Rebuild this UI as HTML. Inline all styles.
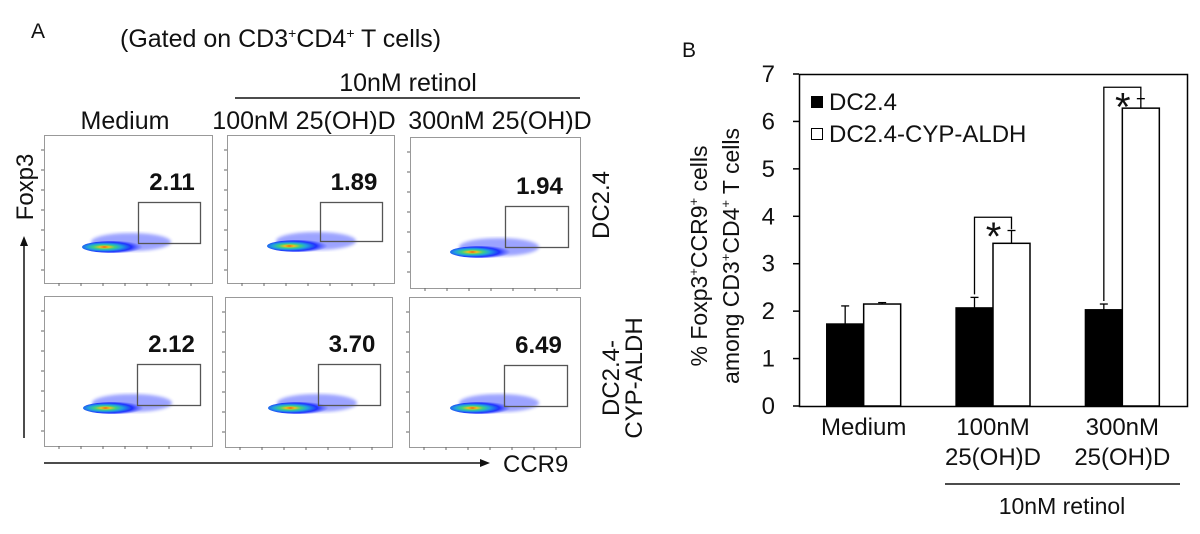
<!DOCTYPE html>
<html><head><meta charset="utf-8">
<style>
html,body{margin:0;padding:0;background:#fff;}
body{width:1200px;height:529px;overflow:hidden;font-family:"Liberation Sans",Arial,sans-serif;}
svg text{font-family:"Liberation Sans",Arial,sans-serif;fill:#111;}
</style></head>
<body>
<svg id="fig" width="1200" height="529" viewBox="0 0 1200 529" xmlns="http://www.w3.org/2000/svg">
<defs>
  <radialGradient id="blob" cx="0.35" cy="0.5" r="0.6">
    <stop offset="0" stop-color="#e03010"/>
    <stop offset="0.12" stop-color="#f0c020"/>
    <stop offset="0.28" stop-color="#40d080"/>
    <stop offset="0.45" stop-color="#20a0e0"/>
    <stop offset="0.7" stop-color="#2030ff"/>
    <stop offset="1" stop-color="#4050ff" stop-opacity="0"/>
  </radialGradient>
  <filter id="soft"><feGaussianBlur stdDeviation="1.5"/></filter>
</defs>

<text x="31" y="38" font-size="21">A</text>
<text x="120" y="47" font-size="25">(Gated on CD3<tspan font-size="14" dy="-9">+</tspan><tspan dy="9">CD4</tspan><tspan font-size="14" dy="-9">+</tspan><tspan dy="9"> T cells)</tspan></text>
<text x="408" y="91" font-size="25" text-anchor="middle">10nM retinol</text>
<line x1="235" y1="98" x2="580" y2="98" stroke="#111" stroke-width="1.5"/>
<text x="125" y="129" font-size="25" text-anchor="middle">Medium</text>
<text x="304" y="129" font-size="25" text-anchor="middle">100nM 25(OH)D</text>
<text x="500" y="129" font-size="25" text-anchor="middle">300nM 25(OH)D</text>
<text transform="translate(33,187) rotate(-90)" font-size="24" text-anchor="middle">Foxp3</text>
<line x1="24" y1="438" x2="24" y2="244" stroke="#111" stroke-width="1.5"/>
<polygon points="24,236 20,246 28,246" fill="#111"/>
<line x1="44" y1="463" x2="482" y2="463" stroke="#111" stroke-width="1.5"/>
<polygon points="490,463 480,459 480,467" fill="#111"/>
<text x="503" y="472" font-size="24">CCR9</text>
<text transform="translate(609,205) rotate(-90)" font-size="24" text-anchor="middle">DC2.4</text>
<text transform="translate(619,378) rotate(-90)" font-size="24" text-anchor="middle">DC2.4-</text>
<text transform="translate(642,378) rotate(-90)" font-size="24" text-anchor="middle">CYP-ALDH</text>
<g id="flow"></g>

<text x="682" y="57" font-size="21">B</text>
<text transform="translate(707,256) rotate(-90)" font-size="23" text-anchor="middle">% Foxp3<tspan font-size="13" dy="-9">+</tspan><tspan dy="9">CCR9</tspan><tspan font-size="13" dy="-9">+</tspan><tspan dy="9"> cells</tspan></text>
<text transform="translate(739,256) rotate(-90)" font-size="23" text-anchor="middle">among CD3<tspan font-size="13" dy="-9">+</tspan><tspan dy="9">CD4</tspan><tspan font-size="13" dy="-9">+</tspan><tspan dy="9"> T cells</tspan></text>
<g id="chart"></g>
<rect x="811" y="96" width="12" height="12" fill="#000"/>
<text x="829" y="110" font-size="24">DC2.4</text>
<rect x="811.5" y="128.5" width="11" height="11" fill="#fff" stroke="#000"/>
<text x="829" y="142" font-size="24">DC2.4-CYP-ALDH</text>
<text x="1062" y="514" font-size="23" text-anchor="middle">10nM retinol</text>
<line x1="945" y1="484" x2="1180" y2="484" stroke="#111" stroke-width="1.5"/>
</svg>
<script>
const NS="http://www.w3.org/2000/svg";
function mk(tag,attrs,parent){const e=document.createElementNS(NS,tag);for(const k in attrs)e.setAttribute(k,attrs[k]);parent.appendChild(e);return e;}

const flowValues=["2.11","1.89","1.94","2.12","3.70","6.49"];
const panels=[[44,135,168,148],[227,135,167,148],[410,137,170,151],[44,296,168,150],[225,297,167,150],[409,297,171,150]];
const gates=[[138,202,62,41],[320,202,62,39],[505,206,63,41],[137,364,63,41],[318,364,62,41],[504,365,63,41]];
const blobs=[[106,247],[291,246],[474,252],[107,408],[292,408],[474,408]];
const flow=document.getElementById('flow');
for(let i=0;i<6;i++){
  const p=panels[i],g=gates[i],b=blobs[i];
  const r=mk('rect',{x:p[0]+.5,y:p[1]+.5,width:p[2],height:p[3],fill:'#fff',stroke:'#999','stroke-width':1},flow);
  
  
  for(let t=0;t<7;t++){mk('line',{x1:p[0]-3,x2:p[0],y1:p[1]+15+t*20,y2:p[1]+15+t*20,stroke:'#666','stroke-width':1},flow);
    mk('line',{x1:p[0]+15+t*22,x2:p[0]+15+t*22,y1:p[1]+p[3],y2:p[1]+p[3]+3,stroke:'#666','stroke-width':1},flow);}
  const sc=mk('ellipse',{cx:b[0]+25,cy:b[1]-5,rx:40,ry:9,fill:'#2535ff',opacity:0.45,filter:'url(#soft)'},flow);
  
  
  const e=mk('ellipse',{cx:b[0]+8,cy:b[1],rx:32,ry:6,fill:'url(#blob)'},flow);
  
  
  const gr=mk('rect',{x:g[0]+.5,y:g[1]+.5,width:g[2],height:g[3],fill:'none',stroke:'#555','stroke-width':1.3},flow);
  
  
  const tx=mk('text',{x:g[0]+g[2]/2+3,y:g[1]-12,'font-size':24,'font-weight':'bold','text-anchor':'middle'},flow);
  tx.textContent=flowValues[i];
  
  
}

const categories=["Medium","100nM","300nM"];
const categories2=["","25(OH)D","25(OH)D"];
const dc24=[1.73,2.07,2.03];
const dc24Err=[0.38,0.22,0.12];
const cyp=[2.15,3.43,6.28];
const cypErr=[0.03,0.27,0.2];
const yTicks=[0,1,2,3,4,5,6,7];
const sig=[false,true,true];
const sigLevel=[0,3.98,6.72];

const X0=799,X1=1187,Y0=406,Y7=74,yMax=7;
const yS=v=>Y0-(v/yMax)*(Y0-Y7);
const gc=i=>X0+(X1-X0)*(i+0.5)/categories.length;
const bw=37;
const ch=document.getElementById('chart');
const ax=mk('rect',{x:X0+.5,y:Y7+.5,width:X1-X0,height:Y0-Y7,fill:'none',stroke:'#000','stroke-width':1.5},ch);


yTicks.forEach(t=>{
  mk('line',{x1:X0-6,x2:X0,y1:yS(t),y2:yS(t),stroke:'#000','stroke-width':1.5},ch);
  const tl=mk('text',{x:X0-24,y:yS(t)+8,'font-size':24,'text-anchor':'end'},ch);
  tl.textContent=t;
  
  
});
function err(x,v,e){
  mk('line',{x1:x,x2:x,y1:yS(v),y2:yS(v+e),stroke:'#000','stroke-width':1.3},ch);
  mk('line',{x1:x-4,x2:x+4,y1:yS(v+e),y2:yS(v+e),stroke:'#000','stroke-width':1.3},ch);
}
categories.forEach((c,i)=>{
  const cx=gc(i);
  err(cx-bw/2,dc24[i],dc24Err[i]);
  err(cx+bw/2,cyp[i],cypErr[i]);
  const b1=mk('rect',{x:cx-bw,y:yS(dc24[i]),width:bw,height:Y0-yS(dc24[i]),fill:'#000',stroke:'#000','stroke-width':1.3},ch);
  
  
  const b2=mk('rect',{x:cx,y:yS(cyp[i]),width:bw,height:Y0-yS(cyp[i]),fill:'#fff',stroke:'#000','stroke-width':1.5},ch);
  
  
  if(sig[i]){
    const lx=cx-bw/2,rx=cx+bw/2,top=yS(sigLevel[i]);
    const br=mk('polyline',{points:`${lx},${yS(dc24[i]+dc24Err[i])-3} ${lx},${top} ${rx},${top} ${rx},${top+12}`,fill:'none',stroke:'#000','stroke-width':1.3},ch);
    
    
    const st=mk('text',{x:lx+19,y:top+33,'font-size':40,'text-anchor':'middle'},ch);
    st.textContent='*';
    
    
  }
  const l1=mk('text',{x:cx,y:435,'font-size':24,'text-anchor':'middle'},ch);
  l1.textContent=c;
  
  
  if(categories2[i]){
    const l2=mk('text',{x:cx,y:465,'font-size':24,'text-anchor':'middle'},ch);
    l2.textContent=categories2[i];
    
    
  }
});
</script>
</body></html>
